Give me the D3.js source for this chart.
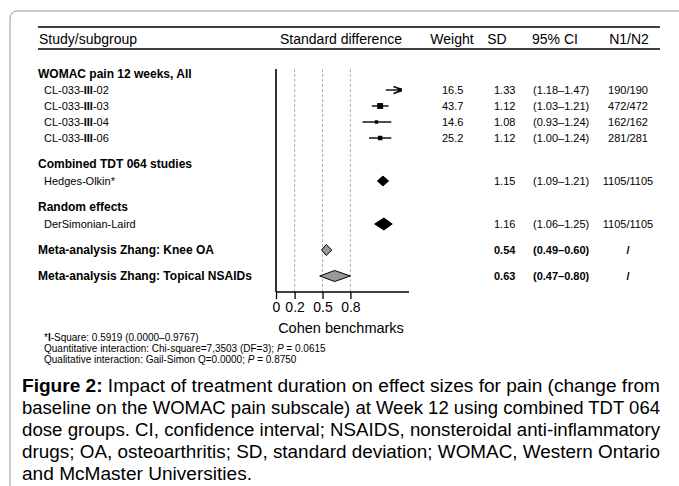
<!DOCTYPE html>
<html>
<head>
<meta charset="utf-8">
<script src="https://cdn.jsdelivr.net/npm/d3@7"></script>
<style>
  body { margin: 0; background: #fff; }
  svg { display: block; font-family: "Liberation Sans", Arial, sans-serif; }
</style>
</head>
<body>
<div id="chart"></div>
<script>
/**
 * Forest plot: standardized difference, WOMAC pain week 12
 * DATA
 * */
const studyNames = ["CL-033-III-02", "CL-033-III-03", "CL-033-III-04", "CL-033-III-06"];
const studyEst = [1.33, 1.12, 1.08, 1.12];
const studyLow = [1.18, 1.03, 0.93, 1.00];
const studyHigh = [1.47, 1.21, 1.24, 1.24];
const studyWeight = [16.5, 43.7, 14.6, 25.2];
const studyN = ["190/190", "472/472", "162/162", "281/281"];

const pooledGroups = ["Combined TDT 064 studies", "Random effects"];
const pooledNames = ["Hedges-Olkin*", "DerSimonian-Laird"];
const pooledEst = [1.15, 1.16];
const pooledLow = [1.09, 1.06];
const pooledHigh = [1.21, 1.25];
const pooledN = ["1105/1105", "1105/1105"];

const metaNames = ["Meta-analysis Zhang: Knee OA", "Meta-analysis Zhang: Topical NSAIDs"];
const metaEst = [0.54, 0.63];
const metaLow = [0.49, 0.47];
const metaHigh = [0.60, 0.80];
const metaN = ["/", "/"];

const benchmarks = [0.2, 0.5, 0.8];
const axisTicks = [0, 0.2, 0.5, 0.8];
const columns = ["Standard difference", "Weight", "SD", "95% CI", "N1/N2"];

const footnotes = [
  ["*", "I", "-Square: 0.5919 (0.0000–0.9767)"],
  ["Quantitative interaction: Chi-square=7,3503 (DF=3); ", "P", " = 0.0615"],
  ["Qualitative interaction: Gail-Simon Q=0.0000; ", "P", " = 0.8750"]
];
const captionLines = [
  "Impact of treatment duration on effect sizes for pain (change from",
  "baseline on the WOMAC pain subscale) at Week 12 using combined TDT 064",
  "dose groups. CI, confidence interval; NSAIDS, nonsteroidal anti-inflammatory",
  "drugs; OA, osteoarthritis; SD, standard deviation; WOMAC, Western Ontario",
  "and McMaster Universities."
];

/**
 * LAYOUT
 * */
const width = 679, height = 486;
const colX = { label: 38, sub: 44, weight: 442, sd: 494, ci: 533, n: 628 };
const rowY = { womac: 74, study0: 90, step: 16, combined: 164, hedges: 181, random: 207, dersim: 224, knee: 250, topical: 276 };
const plotTop = 69, axisY = 292;

const svg = d3.select("#chart").append("svg")
  .attr("width", width)
  .attr("height", height);

// page frame (grey rounded corner top-left)
svg.append("path")
  .attr("d", `M10,${height} L10,19 Q10,11 18,11 L${width},11`)
  .attr("fill", "none")
  .attr("stroke", "#9a9a9a")
  .attr("stroke-width", 1);

// SCALES
const xScale = d3.scaleLinear().domain([0, 1.43]).range([276, 409]);
const boxSize = d3.scaleSqrt().domain([0, 50]).range([0, 6.3]);

// header rules + column titles
svg.append("line").attr("x1", 38).attr("x2", 660).attr("y1", 27).attr("y2", 27).attr("stroke", "#000").attr("stroke-width", 1.3);
svg.append("line").attr("x1", 38).attr("x2", 660).attr("y1", 49).attr("y2", 49).attr("stroke", "#000").attr("stroke-width", 1.3);

svg.append("text").attr("x", 39).attr("y", 39).attr("dominant-baseline", "central")
  .attr("font-size", 14).text("Study/subgroup");
const headX = [341, 452, 497, 555, 629];
svg.selectAll(".colhead").data(columns).join("text")
  .attr("class", "colhead")
  .attr("x", (d, i) => headX[i])
  .attr("y", 39)
  .attr("text-anchor", "middle")
  .attr("dominant-baseline", "central")
  .attr("font-size", 14)
  .text(d => d);

// reference lines
svg.selectAll(".bench").data(benchmarks).join("line")
  .attr("class", "bench")
  .attr("x1", d => xScale(d)).attr("x2", d => xScale(d))
  .attr("y1", plotTop).attr("y2", axisY)
  .attr("stroke", "#b0b0b0").attr("stroke-dasharray", "3,2").attr("stroke-width", 1);

svg.append("line")
  .attr("x1", xScale(0)).attr("x2", xScale(0))
  .attr("y1", plotTop).attr("y2", axisY)
  .attr("stroke", "#000").attr("stroke-width", 1.6);

// AXIS
const xAxis = d3.axisBottom(xScale).tickValues(axisTicks).tickSize(7).tickPadding(3)
  .tickFormat(d => d === 0 ? "0" : d3.format(".1f")(d));
const axisG = svg.append("g")
  .attr("transform", `translate(0,${axisY})`)
  .call(xAxis);
axisG.select(".domain").attr("d", `M${xScale(0)},0H${xScale(1.43)}`).attr("stroke-width", 1.3);
axisG.selectAll(".tick line").attr("stroke-width", 1.3);
axisG.selectAll(".tick text")
  .attr("font-family", "Liberation Sans, Arial, sans-serif")
  .attr("font-size", 14)
  .attr("fill", "#000");
svg.append("text").attr("x", 341).attr("y", 328)
  .attr("text-anchor", "middle").attr("dominant-baseline", "central")
  .attr("font-size", 14.5).text("Cohen benchmarks");

// label helpers
function groupLabel(text, y) {
  svg.append("text").attr("x", colX.label).attr("y", y)
    .attr("dominant-baseline", "central")
    .attr("font-size", 12).attr("font-weight", "bold").text(text);
}
function rowValues(y, w, est, low, high, n, bold) {
  const g = svg.append("g").attr("font-size", 11).attr("font-weight", bold ? "bold" : "normal");
  if (w !== null) g.append("text").attr("x", colX.weight).attr("y", y).attr("dominant-baseline", "central").text(w.toFixed(1));
  g.append("text").attr("x", colX.sd).attr("y", y).attr("dominant-baseline", "central").text(est.toFixed(2));
  g.append("text").attr("x", colX.ci).attr("y", y).attr("dominant-baseline", "central")
    .text(`(${low.toFixed(2)}–${high.toFixed(2)})`);
  g.append("text").attr("x", colX.n).attr("y", y).attr("text-anchor", "middle").attr("dominant-baseline", "central").text(n);
}

// STUDIES
groupLabel("WOMAC pain 12 weeks, All", rowY.womac);
svg.append("defs").append("marker")
  .attr("id", "arrow").attr("viewBox", "0 0 10 10")
  .attr("refX", 9).attr("refY", 5)
  .attr("markerWidth", 5).attr("markerHeight", 5)
  .attr("orient", "auto")
  .append("path").attr("d", "M0,1 L10,5 L0,9").attr("fill", "none").attr("stroke", "#222").attr("stroke-width", 2);

studyNames.forEach((name, i) => {
  const y = rowY.study0 + i * rowY.step;
  const parts = name.split("III");
  const t = svg.append("text").attr("x", colX.sub).attr("y", y)
    .attr("dominant-baseline", "central").attr("font-size", 11);
  t.append("tspan").text(parts[0]);
  t.append("tspan").attr("font-weight", "bold").text("III");
  t.append("tspan").text(parts[1]);

  const maxX = xScale.domain()[1];
  const clipped = studyHigh[i] > maxX;
  const hi = clipped ? studyEst[i] + 0.02 : studyHigh[i];
  svg.append("line")
    .attr("x1", xScale(studyLow[i])).attr("x2", xScale(hi))
    .attr("y1", y).attr("y2", y)
    .attr("stroke", "#3a3a3a").attr("stroke-width", 1.8)
    .attr("marker-end", clipped ? "url(#arrow)" : null);
  const s = boxSize(studyWeight[i]);
  svg.append("rect")
    .attr("x", xScale(studyEst[i]) - s / 2).attr("y", y - s / 2)
    .attr("width", s).attr("height", s)
    .attr("fill", "#000");
  rowValues(y, studyWeight[i], studyEst[i], studyLow[i], studyHigh[i], studyN[i], false);
});

// diamonds
function diamond(y, est, low, high, h, fill) {
  svg.append("path")
    .attr("d", `M${xScale(low)},${y} L${xScale(est)},${y - h / 2} L${xScale(high)},${y} L${xScale(est)},${y + h / 2} Z`)
    .attr("fill", fill).attr("stroke", "#000").attr("stroke-width", 1);
}

// POOLED
const pooledRows = [[rowY.combined, rowY.hedges, 10], [rowY.random, rowY.dersim, 12]];
pooledNames.forEach((name, i) => {
  const [gy, y, h] = pooledRows[i];
  groupLabel(pooledGroups[i], gy);
  svg.append("text").attr("x", colX.sub).attr("y", y)
    .attr("dominant-baseline", "central").attr("font-size", 11).text(name);
  diamond(y, pooledEst[i], pooledLow[i], pooledHigh[i], h, "#000");
  rowValues(y, null, pooledEst[i], pooledLow[i], pooledHigh[i], pooledN[i], false);
});

// META-ANALYSES
const metaY = [rowY.knee, rowY.topical];
metaNames.forEach((name, i) => {
  groupLabel(name, metaY[i]);
  diamond(metaY[i], metaEst[i], metaLow[i], metaHigh[i], 11, "#999");
  rowValues(metaY[i], null, metaEst[i], metaLow[i], metaHigh[i], metaN[i], true);
});

// FOOTNOTES
footnotes.forEach((parts, i) => {
  const t = svg.append("text").attr("x", 44).attr("y", 337 + i * 11.2)
    .attr("dominant-baseline", "central").attr("font-size", 10);
  t.append("tspan").text(parts[0]);
  t.append("tspan").attr(i === 0 ? "font-weight" : "font-style", i === 0 ? "bold" : "italic").text(parts[1]);
  t.append("tspan").text(parts[2]);
});

// CAPTION (justified lines, last line squeezed by the same ratio)
const captionTexts = captionLines.map((line, i) => {
  const t = svg.append("text").attr("x", 22).attr("y", 386 + i * 22)
    .attr("dominant-baseline", "central")
    .attr("font-size", 17.5);
  if (i === 0) t.append("tspan").attr("font-weight", "bold").text("Figure 2: ");
  t.append("tspan").text(line);
  return t;
});
const ratio = 638 / captionTexts[0].node().getComputedTextLength();
captionTexts.forEach((t, i) => {
  const len = i < captionTexts.length - 1 ? 638 : t.node().getComputedTextLength() * ratio;
  t.attr("textLength", len).attr("lengthAdjust", "spacingAndGlyphs");
});
</script>
</body>
</html>
